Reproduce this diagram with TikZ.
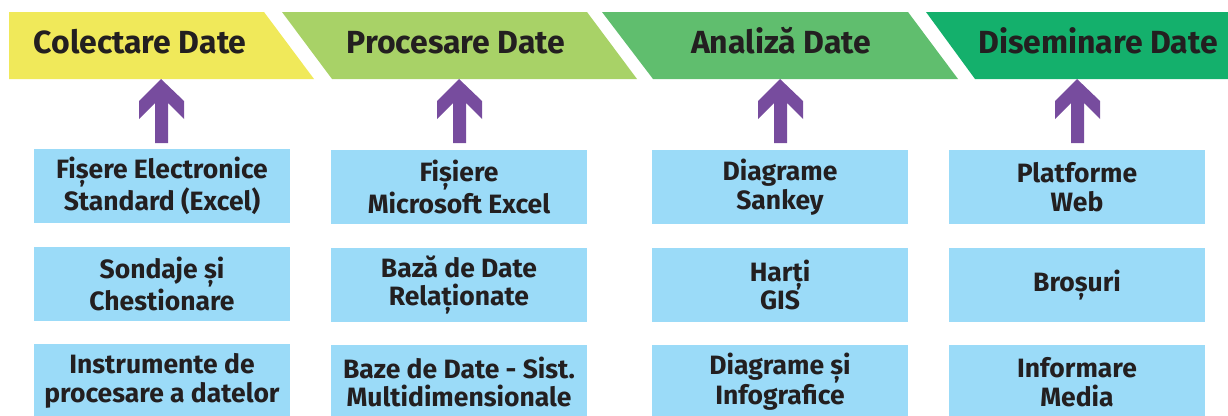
\documentclass[tikz,border=0pt]{standalone}
\usepackage{fontspec}
\setmainfont{Fira Sans}
\definecolor{cyel}{RGB}{240,233,90}
\definecolor{cgrA}{RGB}{168,210,103}
\definecolor{cgrB}{RGB}{96,190,110}
\definecolor{cgrC}{RGB}{20,176,108}
\definecolor{cpur}{RGB}{119,76,158}
\definecolor{cblu}{RGB}{155,219,248}
\definecolor{ctxt}{RGB}{35,31,32}
\begin{document}
\begin{tikzpicture}[x=1pt,y=-1pt,
  title/.style={font=\fontsize{32}{36}\selectfont\bfseries, text=ctxt, inner sep=0pt, anchor=base},
  itembox/.style={fill=cblu, minimum width=256pt, minimum height=74pt, inner sep=0pt, align=center,
     font=\fontsize{26.5}{28.5}\selectfont\bfseries, text=ctxt},
  uparr/.style={fill=cpur}
]
\useasboundingbox (0,0) rectangle (1228,415);
% banners
\fill[cyel] (9,12) -- (264,12) -- (314,79) -- (9,79) -- cycle;
\fill[cgrA] (282,12) -- (587,12) -- (637,79) -- (332,79) -- cycle;
\fill[cgrB] (602,12) -- (908,12) -- (958,79) -- (653,79) -- cycle;
\fill[cgrC] (926,12) -- (1228,12) -- (1228,79) -- (975,79) -- cycle;
\node[title] (t1) at (140,53) {Colectare Date};
\node[title] (t2) at (456,53) {Procesare Date};
\node[title] (t3) at (781,53) {Analiză Date};
\node[title] (t4) at (1098,53) {Diseminare Date};
% tip points of arrows (bottom of banners)
\coordinate (a1) at (161,79);
\coordinate (a2) at (459,79);
\coordinate (a3) at (780,79);
\coordinate (a4) at (1077,79);
% boxes
\node[itembox] (b11) at (162,186) {Fișere Electronice\\Standard (Excel)};
\node[itembox] (b12) at (162,284) {Sondaje și\\Chestionare};
\node[itembox] (b13) at (162,381) {Instrumente de\\procesare a datelor};
\node[itembox] (b21) at (459,187) {Fișiere\\Microsoft Excel};
\node[itembox] (b22) at (459,285) {Bază de Date\\Relaționate};
\node[itembox] (b23) at (459,382) {Baze de Date - Sist.\\Multidimensionale};
\node[itembox] (b31) at (780,187) {Diagrame\\Sankey};
\node[itembox] (b32) at (780,285) {Harți\\GIS};
\node[itembox] (b33) at (780,382) {Diagrame și\\Infografice};
\node[itembox] (b41) at (1077,187) {Platforme\\Web};
\node[itembox] (b42) at (1077,285) {Broșuri};
\node[itembox] (b43) at (1077,382) {Informare\\Media};
% arrows
\foreach \a in {a1,a2,a3,a4}{
  \fill[uparr] (\a) -- ++(23,22) -- ++(0,18) -- ++(-16,-16) -- ++(0,40) -- ++(-13,0)
     -- ++(0,-40) -- ++(-16,16) -- ++(0,-18) -- cycle;
}
\end{tikzpicture}
\end{document}
